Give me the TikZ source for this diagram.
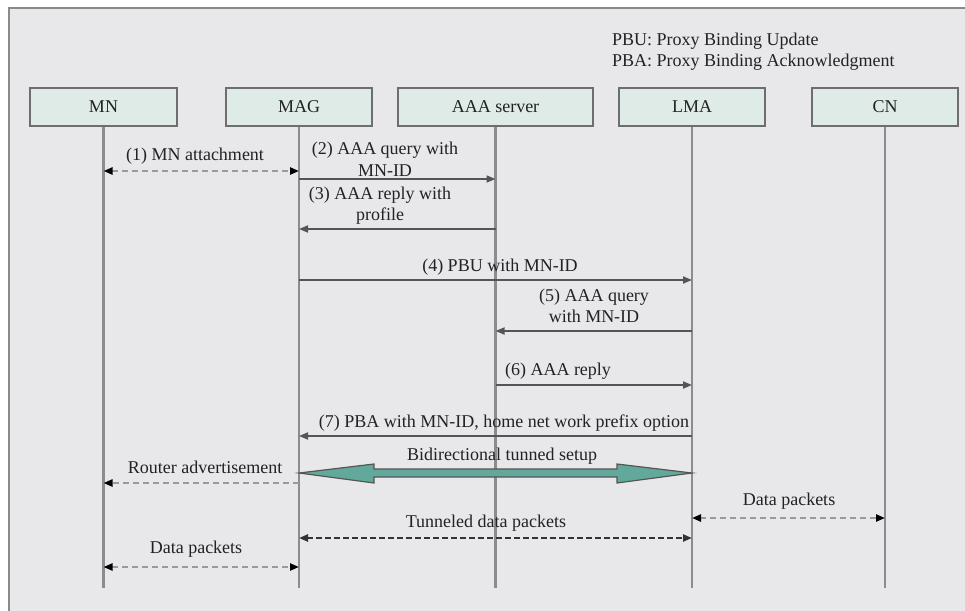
\documentclass[tikz,border=0pt]{standalone}
\usepackage{fontspec}
\setmainfont{Liberation Serif}
\usetikzlibrary{arrows.meta,calc}
\definecolor{bgc}{HTML}{E8E8EA}
\definecolor{framec}{HTML}{8A8A8A}
\definecolor{boxfill}{HTML}{DEEBE7}
\definecolor{boxline}{HTML}{6E6E6E}
\definecolor{lifec}{HTML}{8C8C8C}
\definecolor{msgc}{HTML}{555555}
\definecolor{dashc}{HTML}{9A9A9A}
\definecolor{tunc}{HTML}{333333}
\definecolor{tealc}{HTML}{62A99B}
\definecolor{txtc}{HTML}{222222}
\tikzset{
  actor/.style={draw=boxline, line width=1.6pt, fill=boxfill, minimum height=38pt, inner sep=0pt, text=txtc, font=\fontsize{18}{21}\selectfont},
  life/.style={draw=lifec, line width=2.4pt},
  msg/.style={draw=msgc, line width=1.8pt, -{Triangle[length=9pt,width=7pt]}},
  dmsg/.style={draw=dashc, line width=2.2pt, dash pattern=on 6pt off 4pt, {Triangle[length=9pt,width=7pt,color=black]}-{Triangle[length=9pt,width=7pt,color=black]}},
  dmsgl/.style={draw=dashc, line width=2.2pt, dash pattern=on 6pt off 4pt, -{Triangle[length=9pt,width=7pt,color=black]}},
  tmsg/.style={draw=tunc, line width=2.8pt, dash pattern=on 6pt off 3pt, {Triangle[length=9pt,width=7pt]}-{Triangle[length=9pt,width=7pt]}},
  lbl/.style={inner sep=0pt, text=txtc, font=\fontsize{18}{21}\selectfont, align=center},
  bigarrow/.style={draw=msgc, line width=1.2pt, fill=tealc, line join=miter}
}
\begin{document}
\begin{tikzpicture}[x=1pt,y=-1pt]
\useasboundingbox (0,0) rectangle (965,610);
\fill[white] (0,0) rectangle (965,610);
\filldraw[fill=bgc, draw=framec, line width=2pt] (9,8) rectangle (990,630);

% legend
\node[lbl, anchor=west] (leg1) at (612,41) {PBU: Proxy Binding Update};
\node[lbl, anchor=west] (leg2) at (612,62) {PBA: Proxy Binding Acknowledgment};

% actors
\node[actor, minimum width=147pt] (MN)  at (103.5,107) {MN};
\node[actor, minimum width=146pt] (MAG) at (299,107) {MAG};
\node[actor, minimum width=195pt] (AAA) at (495.5,107) {AAA server};
\node[actor, minimum width=146pt] (LMA) at (692,107) {LMA};
\node[actor, minimum width=146pt] (CN)  at (885,107) {CN};

% lifelines
\foreach \n in {MN,MAG,AAA,LMA,CN}{
  \coordinate (\n end) at (\n.south |- 0,588);
  \draw[life] (\n.south) -- (\n end);
}

% (1)
\draw[dmsg] (MN |- 0,171) -- (MAG |- 0,171);
\node[lbl] (l1) at (195,156) {(1) MN attachment};
% (2)
\draw[msg] (MAG |- 0,179) -- (AAA |- 0,179);
\node[lbl] (l2) at (385,159.5) {(2) AAA query with\\[1pt]MN-ID};
% (3)
\draw[msg] (AAA |- 0,229) -- (MAG |- 0,229);
\node[lbl] (l3) at (380,205.5) {(3) AAA reply with\\profile};
% (4)
\draw[msg] (MAG |- 0,280) -- (LMA |- 0,280);
\node[lbl] (l4) at (500,267) {(4) PBU with MN-ID};
% (5)
\draw[msg] (LMA |- 0,331) -- (AAA |- 0,331);
\node[lbl] (l5) at (594,305.5) {(5) AAA query\\with MN-ID};
% (6)
\draw[msg] (AAA |- 0,385) -- (LMA |- 0,385);
\node[lbl] (l6) at (558,371) {(6) AAA reply};
% (7)
\draw[msg] (LMA |- 0,436) -- (MAG |- 0,436);
\node[lbl] (l7) at (504,423) {(7) PBA with MN-ID, home net work prefix option};

% router advertisement
\draw[dmsgl] (MAG |- 0,483) -- (MN |- 0,483);
\node[lbl] (lra) at (205,467) {Router advertisement};

% bidirectional tunnel setup
\coordinate (tl) at (MAG |- 0,473);
\coordinate (tr) at (LMA |- 0,473);
\draw[bigarrow] (tl) -- ++(75,-9) -- ++(0,5) -- ($(tr)+(-75,-4)$) -- ++(0,-5) -- (tr)
  -- ++(-75,10) -- ++(0,-6) -- ($(tl)+(75,4)$) -- ++(0,6) -- cycle;
\node[lbl] (lbt) at (502,456) {Bidirectional tunned setup};

% data packets LMA-CN
\draw[dmsg] (LMA |- 0,518) -- (CN |- 0,518);
\node[lbl] (ldp1) at (789,501) {Data packets};

% tunneled data packets
\draw[tmsg] (MAG |- 0,538) -- (LMA |- 0,538);
\node[lbl] (ltd) at (486,523) {Tunneled data packets};

% data packets MN-MAG
\draw[dmsg] (MN |- 0,567) -- (MAG |- 0,567);
\node[lbl] (ldp2) at (196,549) {Data packets};
\end{tikzpicture}
\end{document}
